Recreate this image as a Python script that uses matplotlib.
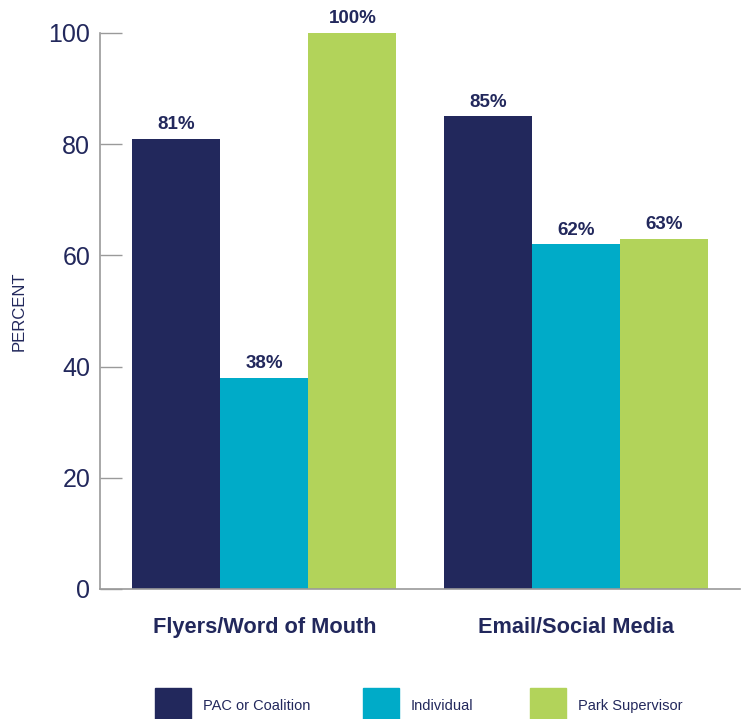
import matplotlib.pyplot as plt
from matplotlib.patches import Rectangle
import numpy as np

plt.rcParams['font.family'] = ['Liberation Sans', 'DejaVu Sans']

categories = ['Flyers/Word of Mouth', 'Email/Social Media']
series = ['PAC or Coalition', 'Individual', 'Park Supervisor']
values = [
    [81, 85],   # PAC or Coalition
    [38, 62],   # Individual
    [100, 63],  # Park Supervisor
]
colors = ['#22285c', '#00abc8', '#b2d35a']
navy = '#22285c'
grey = '#9a9a9a'

fig = plt.figure(figsize=(7.42, 7.19), dpi=100)
# axes box in pixels: x 100..740, y(0)=589, 100 -> 33
W, H = 742, 719
y0_px, y100_px = 589, 33
top_val = 106
px_per = (y0_px - y100_px) / 100
ax_top_px = y0_px - top_val * px_per
ax = fig.add_axes([100 / W, 1 - y0_px / H, 640 / W, (y0_px - ax_top_px) / H])

x = np.arange(len(categories))
w = 0.282
for i, (name, vals) in enumerate(zip(series, values)):
    pos = x + (i - 1) * w
    ax.bar(pos, vals, width=w, color=colors[i], label=name)
    for xp, v in zip(pos, vals):
        ax.text(xp, v + 1.0, f'{v}%', ha='center', va='bottom',
                fontsize=13.5, fontweight='bold', color=navy)

ax.set_xlim(-0.527, 1.524)
ax.set_ylim(0, top_val)
ax.set_yticks([0, 20, 40, 60, 80, 100])
ax.tick_params(axis='y', direction='in', length=16, width=1, color=grey,
               labelsize=18, labelcolor=navy, pad=7)
ax.tick_params(axis='x', length=0, labelsize=15.7, labelcolor=navy, pad=20)
ax.set_xticks(x)
ax.set_xticklabels(categories, fontweight='bold')
for s in ['top', 'right']:
    ax.spines[s].set_visible(False)
ax.spines['left'].set_bounds(0, 100)
for s in ['left', 'bottom']:
    ax.spines[s].set_color(grey)
    ax.spines[s].set_linewidth(1.2)
ax.set_ylabel('PERCENT', fontsize=12, color=navy)
ax.yaxis.set_label_coords(-73 / 640, 50 / top_val)

# legend drawn by hand below the chart
sq_x = [155, 363, 530]
for i, name in enumerate(series):
    fig.add_artist(Rectangle((sq_x[i] / W, 1 - 719 / H), 36 / W, 31 / H,
                             transform=fig.transFigure, color=colors[i]))
    fig.text((sq_x[i] + 48) / W, 1 - 706 / H, name, fontsize=10.5,
             color=navy, va='center', ha='left')

fig.savefig('out.png', dpi=100)
